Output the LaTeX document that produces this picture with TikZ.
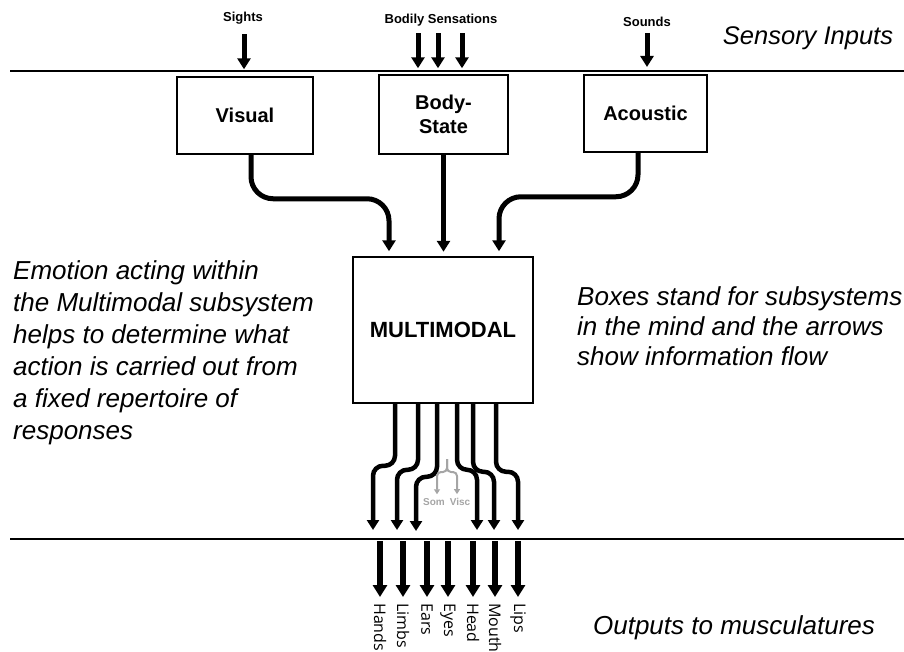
\documentclass[tikz,border=0pt]{standalone}
\usepackage{fontspec}
\setmainfont{Liberation Sans}
\newfontfamily\labfont{Open Sans}
\usetikzlibrary{arrows.meta}
\definecolor{lightgraytxt}{RGB}{165,165,165}
\begin{document}
\begin{tikzpicture}[x=1pt,y=-1pt,
  box/.style={draw, line width=1.5pt, inner sep=0pt, align=center,
    font=\bfseries\fontsize{20}{24}\selectfont},
  toplab/.style={inner sep=0pt, font=\bfseries\fontsize{13}{15}\selectfont},
  inarr/.style={line width=5pt, -{Triangle[width=13pt,length=11pt]}},
  fat/.style={line width=5pt, rounded corners=22pt, -{Triangle[width=13pt,length=11pt]}},
  midarr/.style={line width=4.5pt, rounded corners=10pt, -{Triangle[width=12pt,length=10pt]}},
  outarr/.style={line width=6pt, -{Triangle[width=14pt,length=12pt]}},
  outlab/.style={rotate=-90, anchor=west, inner sep=0pt, font=\labfont\fontsize{16}{19}\selectfont},
  grayarr/.style={draw=lightgraytxt, line width=2pt, rounded corners=4pt, -{Triangle[width=6pt,length=5pt]}},
  graylab/.style={inner sep=0pt, text=lightgraytxt, font=\bfseries\fontsize{10}{12}\selectfont},
  bigtext/.style={inner sep=0pt, align=left, font=\itshape\fontsize{26}{32}\selectfont},
  rule/.style={line width=1.5pt}]
\useasboundingbox (0,0) rectangle (904,651);
\clip (0,0) rectangle (904,651);

% separating lines
\coordinate (t1) at (10,71); \coordinate (t2) at (904,71);
\coordinate (b1) at (10,539); \coordinate (b2) at (904,539);
\draw[rule] (t1) -- (t2);
\draw[rule] (b1) -- (b2);

% sensory input labels
\node[toplab] (sights) at (243,18) {Sights};
\node[toplab] (bodily) at (441,20) {Bodily Sensations};
\node[toplab] (sounds) at (647,22) {Sounds};
\node[inner sep=0pt, font=\itshape\fontsize{25.5}{30}\selectfont] (sensory) at (808,38) {Sensory Inputs};

\draw[inarr] ([xshift=1pt,yshift=-10pt]sights.south) -- ++(0,35);
\draw[inarr] ([xshift=-23pt,yshift=-7pt]bodily.south) -- ++(0,35);
\draw[inarr] ([xshift=-3pt,yshift=-7pt]bodily.south) -- ++(0,35);
\draw[inarr] ([xshift=21pt,yshift=-7pt]bodily.south) -- ++(0,35);
\draw[inarr] ([yshift=-6pt]sounds.south) -- ++(0,34);

% boxes
\node[box, minimum width=136pt, minimum height=77pt] (vis) at (245,115.5) {Visual};
\node[box, minimum width=129pt, minimum height=79pt] (body) at (443.5,114.5) {Body-\\State};
\node[box, minimum width=123pt, minimum height=77pt] (acou) at (645.5,113.5) {Acoustic};
\node[box, minimum width=180pt, minimum height=146pt,
  font=\bfseries\fontsize{22}{26}\selectfont] (multi) at (443,330) {MULTIMODAL};

% into multimodal
\draw[fat] ([xshift=6pt]vis.south) -- ++(0,44) -| ([xshift=-54pt,yshift=5pt]multi.north);
\draw[inarr] (body.south) -- ++(0,97);
\draw[fat] ([xshift=-7.5pt]acou.south) -- ++(0,44) -| ([xshift=56pt,yshift=5pt]multi.north);

% out of multimodal
\coordinate (e1) at (373,530);
\coordinate (e2) at (397,530);
\coordinate (e3) at (416,531);
\coordinate (e4) at (477,530);
\coordinate (e5) at (494,530);
\coordinate (e6) at (518,530);
\draw[midarr] ([xshift=-48pt]multi.south) -- ++(0,62) -| (e1);
\draw[midarr] ([xshift=-25pt]multi.south) -- ++(0,66) -| (e2);
\draw[midarr] ([xshift=-6pt]multi.south) -- ++(0,73) -| (e3);
\draw[midarr] ([xshift=14pt]multi.south) -- ++(0,66) -| (e4);
\draw[midarr] ([xshift=30pt]multi.south) -- ++(0,68) -| (e5);
\draw[midarr] ([xshift=53pt]multi.south) -- ++(0,68) -| (e6);

% som / visc branch
\coordinate (gs) at (447,459);
\coordinate (gsplit) at (447,472);
\node[graylab] (som) at (434,502) {Som};
\node[graylab] (visc) at (460,502) {Visc};
\draw[grayarr] (gs) -- (gsplit) -| ([xshift=3pt,yshift=4pt]som.north);
\draw[grayarr] (gs) -- (gsplit) -| ([xshift=-3pt,yshift=4pt]visc.north);

% outputs
\node[outlab] (hands) at (380,603) {Hands};
\node[outlab] (limbs) at (403,603) {Limbs};
\node[outlab] (ears)  at (427,603) {Ears};
\node[outlab] (eyes)  at (448,603) {Eyes};
\node[outlab] (head)  at (473,603) {Head};
\node[outlab] (mouth) at (495,603) {Mouth};
\node[outlab] (lips)  at (518,603) {Lips};
\foreach \n in {hands,limbs,ears,eyes,head,mouth,lips}
  \draw[outarr] ([yshift=62pt]\n.west) -- ([yshift=6pt]\n.west);

% explanatory text
\node[bigtext, anchor=north west] (emo) at (13,260) {Emotion acting within\\the Multimodal subsystem\\helps to determine what\\action is carried out from\\a fixed repertoire of\\responses};
\node[bigtext, anchor=north west, font=\itshape\fontsize{26}{30}\selectfont] (boxes) at (577,286) {Boxes stand for subsystems\\in the mind and the arrows\\show information flow};
\node[inner sep=0pt, font=\itshape\fontsize{26}{30}\selectfont] (outputs) at (734,628) {Outputs to musculatures};
\end{tikzpicture}
\end{document}
